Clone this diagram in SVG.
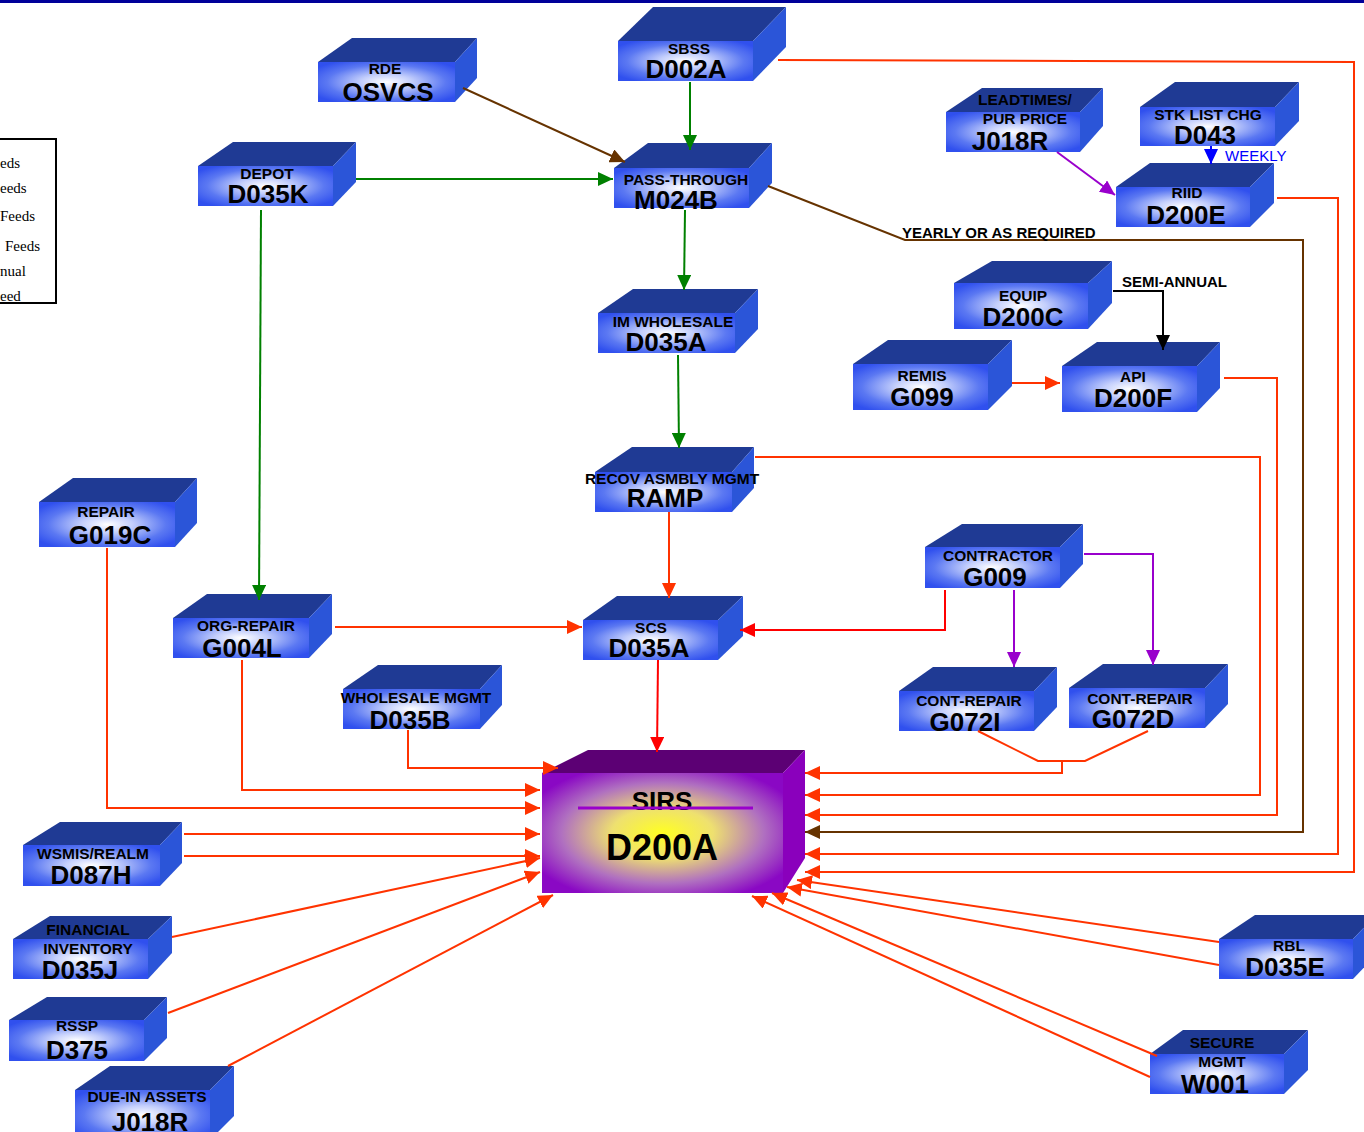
<svg xmlns="http://www.w3.org/2000/svg" width="1364" height="1132" viewBox="0 0 1364 1132">
<style>
.top{fill:#1f3a94}
.side{fill:#2b55d8}
.front{fill:url(#bg)}
.lb{font-family:"Liberation Sans",Arial,sans-serif;font-weight:bold;font-size:15.5px;fill:#000;text-anchor:middle}
.cd{font-family:"Liberation Sans",Arial,sans-serif;font-weight:bold;font-size:26px;fill:#000;text-anchor:middle}
.note{font-family:"Liberation Sans",Arial,sans-serif;font-weight:bold;font-size:15px;fill:#000}
.lg{font-family:"Liberation Serif","Times New Roman",serif;font-size:15px;fill:#000}
.c{fill:none;stroke-width:2}
.o{stroke:#ff3300}
.r{stroke:#ff0000}
.g{stroke:#008000}
.b{stroke:#663300}
.p{stroke:#9900cc}
.k{stroke:#000}
.bl{stroke:#0000ff}
</style>
<defs>
<radialGradient id="bg" cx="50%" cy="50%" r="62%">
<stop offset="0" stop-color="#ffffff"/>
<stop offset="0.3" stop-color="#c4cffc"/>
<stop offset="0.7" stop-color="#5b78f2"/>
<stop offset="1" stop-color="#3050ee"/>
</radialGradient>
<radialGradient id="sg" cx="50%" cy="50%" r="60%">
<stop offset="0" stop-color="#ffff22"/>
<stop offset="0.35" stop-color="#eee070"/>
<stop offset="0.7" stop-color="#b070c0"/>
<stop offset="1" stop-color="#8a08c4"/>
</radialGradient>
<marker id="aO" markerUnits="userSpaceOnUse" markerWidth="16" markerHeight="14" refX="15" refY="7" orient="auto"><path d="M0,0 L15,7 L0,14 z" fill="#ff3300"/></marker>
<marker id="aR" markerUnits="userSpaceOnUse" markerWidth="16" markerHeight="14" refX="15" refY="7" orient="auto"><path d="M0,0 L15,7 L0,14 z" fill="#ff0000"/></marker>
<marker id="aG" markerUnits="userSpaceOnUse" markerWidth="16" markerHeight="14" refX="15" refY="7" orient="auto"><path d="M0,0 L15,7 L0,14 z" fill="#008000"/></marker>
<marker id="aB" markerUnits="userSpaceOnUse" markerWidth="16" markerHeight="14" refX="15" refY="7" orient="auto"><path d="M0,0 L15,7 L0,14 z" fill="#663300"/></marker>
<marker id="aP" markerUnits="userSpaceOnUse" markerWidth="16" markerHeight="14" refX="15" refY="7" orient="auto"><path d="M0,0 L15,7 L0,14 z" fill="#9900cc"/></marker>
<marker id="aK" markerUnits="userSpaceOnUse" markerWidth="16" markerHeight="14" refX="15" refY="7" orient="auto"><path d="M0,0 L15,7 L0,14 z" fill="#000"/></marker>
<marker id="aBl" markerUnits="userSpaceOnUse" markerWidth="16" markerHeight="14" refX="15" refY="7" orient="auto"><path d="M0,0 L15,7 L0,14 z" fill="#0000ff"/></marker>
</defs>
<rect x="0" y="0" width="1364" height="1132" fill="#fff"/>
<rect x="0" y="0" width="1364" height="3" fill="#000099"/>

<g id="legend">
<rect x="-10" y="139" width="66" height="164" fill="#fff" stroke="#000" stroke-width="2"/>
<text class="lg" x="0" y="168">eds</text>
<text class="lg" x="0" y="193">eeds</text>
<text class="lg" x="0" y="221">Feeds</text>
<text class="lg" x="5" y="251">Feeds</text>
<text class="lg" x="0" y="276">nual</text>
<text class="lg" x="0" y="301">eed</text>
</g>

<g id="sbss">
<polygon class="top" points="618,41 653,7 786,7 753,41"/>
<polygon class="side" points="753,41 786,7 786,47 753,81"/>
<rect class="front" x="618" y="41" width="135" height="40"/>
<text class="lb" x="689" y="54">SBSS</text>
<text class="cd" x="686" y="78">D002A</text>
</g>
<g id="rde">
<polygon class="top" points="318,62 352,38 477,38 455,62"/>
<polygon class="side" points="455,62 477,38 477,78 455,102"/>
<rect class="front" x="318" y="62" width="137" height="40"/>
<text class="lb" x="385" y="74">RDE</text>
<text class="cd" x="388" y="101">OSVCS</text>
</g>
<g id="depot">
<polygon class="top" points="198,166 233,142 356,142 333,166"/>
<polygon class="side" points="333,166 356,142 356,182 333,206"/>
<rect class="front" x="198" y="166" width="135" height="40"/>
<text class="lb" x="267" y="179">DEPOT</text>
<text class="cd" x="268" y="203">D035K</text>
</g>
<g id="passthrough">
<polygon class="top" points="614,168 648,143 772,143 749,168"/>
<polygon class="side" points="749,168 772,143 772,183 749,208"/>
<rect class="front" x="614" y="168" width="135" height="40"/>
<text class="lb" x="686" y="185">PASS-THROUGH</text>
<text class="cd" x="676" y="209">M024B</text>
</g>
<g id="imwholesale">
<polygon class="top" points="598,313 633,289 758,289 735,313"/>
<polygon class="side" points="735,313 758,289 758,329 735,353"/>
<rect class="front" x="598" y="313" width="137" height="40"/>
<text class="lb" x="673" y="327">IM WHOLESALE</text>
<text class="cd" x="666" y="351">D035A</text>
</g>
<g id="ramp">
<polygon class="top" points="595,472 632,447 754,447 732,472"/>
<polygon class="side" points="732,472 754,447 754,488 732,512"/>
<rect class="front" x="595" y="472" width="137" height="40"/>
<text class="lb" x="672" y="484">RECOV ASMBLY MGMT</text>
<text class="cd" x="665" y="507">RAMP</text>
</g>
<g id="repair">
<polygon class="top" points="39,502 73,478 197,478 175,502"/>
<polygon class="side" points="175,502 197,478 197,523 175,547"/>
<rect class="front" x="39" y="502" width="136" height="45"/>
<text class="lb" x="106" y="517">REPAIR</text>
<text class="cd" x="110" y="544">G019C</text>
</g>
<g id="orgrepair">
<polygon class="top" points="173,618 207,594 332,594 309,618"/>
<polygon class="side" points="309,618 332,594 332,634 309,658"/>
<rect class="front" x="173" y="618" width="136" height="40"/>
<text class="lb" x="246" y="631">ORG-REPAIR</text>
<text class="cd" x="242" y="657">G004L</text>
</g>
<g id="scs">
<polygon class="top" points="583,620 617,596 743,596 718,620"/>
<polygon class="side" points="718,620 743,596 743,636 718,660"/>
<rect class="front" x="583" y="620" width="135" height="40"/>
<text class="lb" x="651" y="633">SCS</text>
<text class="cd" x="649" y="657">D035A</text>
</g>
<g id="wholesalemgmt">
<polygon class="top" points="343,689 378,665 502,665 480,689"/>
<polygon class="side" points="480,689 502,665 502,705 480,729"/>
<rect class="front" x="343" y="689" width="137" height="40"/>
<text class="lb" x="416" y="703">WHOLESALE MGMT</text>
<text class="cd" x="410" y="729">D035B</text>
</g>
<g id="contractor">
<polygon class="top" points="925,547 962,524 1083,524 1060,547"/>
<polygon class="side" points="1060,547 1083,524 1083,564 1060,588"/>
<rect class="front" x="925" y="547" width="135" height="41"/>
<text class="lb" x="998" y="561">CONTRACTOR</text>
<text class="cd" x="995" y="586">G009</text>
</g>
<g id="g072i">
<polygon class="top" points="899,691 933,667 1057,667 1034,691"/>
<polygon class="side" points="1034,691 1057,667 1057,707 1034,731"/>
<rect class="front" x="899" y="691" width="135" height="40"/>
<text class="lb" x="969" y="706">CONT-REPAIR</text>
<text class="cd" x="965" y="731">G072I</text>
</g>
<g id="g072d">
<polygon class="top" points="1069,688 1103,664 1228,664 1205,688"/>
<polygon class="side" points="1205,688 1228,664 1228,704 1205,728"/>
<rect class="front" x="1069" y="688" width="136" height="40"/>
<text class="lb" x="1140" y="704">CONT-REPAIR</text>
<text class="cd" x="1133" y="728">G072D</text>
</g>
<g id="j018r">
<polygon class="top" points="946,112 982,88 1103,88 1080,112"/>
<polygon class="side" points="1080,112 1103,88 1103,126 1080,152"/>
<rect class="front" x="946" y="112" width="134" height="40"/>
<text class="lb" x="1025" y="105">LEADTIMES/</text>
<text class="lb" x="1025" y="124">PUR PRICE</text>
<text class="cd" x="1010" y="150">J018R</text>
</g>
<g id="d043">
<polygon class="top" points="1140,107 1175,82 1299,82 1275,107"/>
<polygon class="side" points="1275,107 1299,82 1299,121 1275,146"/>
<rect class="front" x="1140" y="107" width="135" height="39"/>
<text class="lb" x="1208" y="120">STK LIST CHG</text>
<text class="cd" x="1205" y="144">D043</text>
</g>
<g id="riid">
<polygon class="top" points="1116,187 1150,163 1274,163 1250,187"/>
<polygon class="side" points="1250,187 1274,163 1274,203 1250,227"/>
<rect class="front" x="1116" y="187" width="134" height="40"/>
<text class="lb" x="1187" y="198">RIID</text>
<text class="cd" x="1186" y="224">D200E</text>
</g>
<g id="equip">
<polygon class="top" points="954,283 992,261 1112,261 1088,283"/>
<polygon class="side" points="1088,283 1112,261 1112,303 1088,329"/>
<rect class="front" x="954" y="283" width="134" height="46"/>
<text class="lb" x="1023" y="301">EQUIP</text>
<text class="cd" x="1023" y="326">D200C</text>
</g>
<g id="remis">
<polygon class="top" points="853,364 888,340 1012,340 988,364"/>
<polygon class="side" points="988,364 1012,340 1012,386 988,410"/>
<rect class="front" x="853" y="364" width="135" height="46"/>
<text class="lb" x="922" y="381">REMIS</text>
<text class="cd" x="922" y="406">G099</text>
</g>
<g id="api">
<polygon class="top" points="1062,366 1097,342 1220,342 1197,366"/>
<polygon class="side" points="1197,366 1220,342 1220,388 1197,412"/>
<rect class="front" x="1062" y="366" width="135" height="46"/>
<text class="lb" x="1133" y="382">API</text>
<text class="cd" x="1133" y="407">D200F</text>
</g>
<g id="wsmis">
<polygon class="top" points="23,845 60,822 182,822 160,845"/>
<polygon class="side" points="160,845 182,822 182,863 160,886"/>
<rect class="front" x="23" y="845" width="137" height="41"/>
<text class="lb" x="93" y="859">WSMIS/REALM</text>
<text class="cd" x="91" y="884">D087H</text>
</g>
<g id="financial">
<polygon class="top" points="13,939 50,916 172,916 148,939"/>
<polygon class="side" points="148,939 172,916 172,953 148,979"/>
<rect class="front" x="13" y="939" width="135" height="40"/>
<text class="lb" x="88" y="935">FINANCIAL</text>
<text class="lb" x="88" y="954">INVENTORY</text>
<text class="cd" x="80" y="979">D035J</text>
</g>
<g id="rssp">
<polygon class="top" points="9,1020 47,997 167,997 144,1020"/>
<polygon class="side" points="144,1020 167,997 167,1038 144,1061"/>
<rect class="front" x="9" y="1020" width="135" height="41"/>
<text class="lb" x="77" y="1031">RSSP</text>
<text class="cd" x="77" y="1059">D375</text>
</g>
<g id="duein">
<polygon class="top" points="75,1090 110,1066 234,1066 210,1090"/>
<polygon class="side" points="210,1090 234,1066 234,1116 210,1140"/>
<rect class="front" x="75" y="1090" width="135" height="50"/>
<text class="lb" x="147" y="1102">DUE-IN ASSETS</text>
<text class="cd" x="150" y="1131">J018R</text>
</g>
<g id="rbl">
<polygon class="top" points="1219,939 1255,915 1376,915 1353,939"/>
<polygon class="side" points="1353,939 1376,915 1376,955 1353,979"/>
<rect class="front" x="1219" y="939" width="134" height="40"/>
<text class="lb" x="1289" y="951">RBL</text>
<text class="cd" x="1285" y="976">D035E</text>
</g>
<g id="secure">
<polygon class="top" points="1150,1054 1183,1030 1308,1030 1284,1054"/>
<polygon class="side" points="1284,1054 1308,1030 1308,1070 1284,1094"/>
<rect class="front" x="1150" y="1054" width="134" height="40"/>
<text class="lb" x="1222" y="1048">SECURE</text>
<text class="lb" x="1222" y="1067">MGMT</text>
<text class="cd" x="1215" y="1093">W001</text>
</g>
<g id="sirs">
<polygon points="542,773 588,750 805,750 783,773" fill="#5c0074"/>
<polygon points="783,773 805,750 805,858 783,893" fill="#8a00bc"/>
<rect x="542" y="773" width="241" height="120" fill="url(#sg)"/>
<text x="662" y="810" font-family="Liberation Sans, Arial, sans-serif" font-weight="bold" font-size="26" text-anchor="middle">SIRS</text>
<line x1="578" y1="808" x2="753" y2="808" stroke="#9900cc" stroke-width="3"/>
<text x="662" y="860" font-family="Liberation Sans, Arial, sans-serif" font-weight="bold" font-size="36" text-anchor="middle">D200A</text>
</g>

<g id="connectors">
<path class="c g" d="M690,82 V150" marker-end="url(#aG)"/>
<path class="c g" d="M356,179 H613" marker-end="url(#aG)"/>
<path class="c g" d="M685,210 L684,290" marker-end="url(#aG)"/>
<path class="c g" d="M678,355 L679,448" marker-end="url(#aG)"/>
<path class="c g" d="M261,210 L259,600" marker-end="url(#aG)"/>
<path class="c b" d="M463,88 L625,162" marker-end="url(#aB)"/>
<path class="c b" d="M768,186 L905,240 H1303 V832 H805" marker-end="url(#aB)"/>
<path class="c o" d="M669,512 V598" marker-end="url(#aO)"/>
<path class="c o" d="M335,627 H582" marker-end="url(#aO)"/>
<path class="c o" d="M755,457 H1260 V795 H805" marker-end="url(#aO)"/>
<path class="c o" d="M1224,378 H1277 V815 H805" marker-end="url(#aO)"/>
<path class="c o" d="M1277,198 H1338 V854 H805" marker-end="url(#aO)"/>
<path class="c o" d="M778,60 L1354,62 V872 H805" marker-end="url(#aO)"/>
<path class="c o" d="M978,731 L1038,761 H1085 L1148,731"/>
<path class="c o" d="M1062,761 V773 H805" marker-end="url(#aO)"/>
<path class="c o" d="M408,730 V768 H558" marker-end="url(#aO)"/>
<path class="c o" d="M242,660 V790 H540" marker-end="url(#aO)"/>
<path class="c o" d="M107,548 V808 H540" marker-end="url(#aO)"/>
<path class="c o" d="M184,834 H540" marker-end="url(#aO)"/>
<path class="c o" d="M184,856 H540" marker-end="url(#aO)"/>
<path class="c o" d="M172,937 L540,858" marker-end="url(#aO)"/>
<path class="c o" d="M168,1013 L540,872" marker-end="url(#aO)"/>
<path class="c o" d="M228,1066 L553,895" marker-end="url(#aO)"/>
<path class="c o" d="M1219,942 L797,880" marker-end="url(#aO)"/>
<path class="c o" d="M1219,965 L787,887" marker-end="url(#aO)"/>
<path class="c o" d="M1157,1056 L772,893" marker-end="url(#aO)"/>
<path class="c o" d="M1150,1077 L752,896" marker-end="url(#aO)"/>
<path class="c o" d="M1012,383 H1060" marker-end="url(#aO)"/>
<path class="c r" d="M945,590 V630 H740" marker-end="url(#aR)"/>
<path class="c r" d="M658,660 L657,752" marker-end="url(#aR)"/>
<path class="c p" d="M1014,590 V667" marker-end="url(#aP)"/>
<path class="c p" d="M1084,554 H1153 V665" marker-end="url(#aP)"/>
<path class="c p" d="M1057,152 L1115,195" marker-end="url(#aP)"/>
<path class="c k" d="M1113,291 H1163 V350" marker-end="url(#aK)"/>
<path class="c bl" d="M1211,146 V164" marker-end="url(#aBl)"/>
</g>
<text class="note" x="902" y="238">YEARLY OR AS REQUIRED</text>
<text class="note" x="1122" y="287">SEMI-ANNUAL</text>
<text x="1225" y="161" font-family="Liberation Sans, Arial, sans-serif" font-size="15" fill="#0000ff">WEEKLY</text>
</svg>
